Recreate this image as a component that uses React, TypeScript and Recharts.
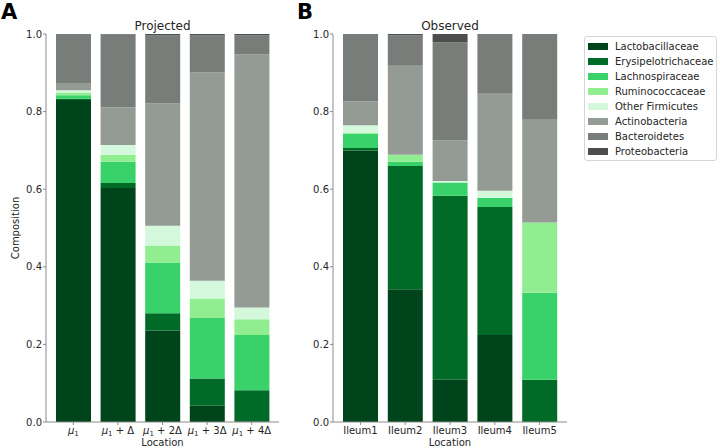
import React from 'react';
import { BarChart, Bar, XAxis, YAxis } from 'recharts';

// Taxa, bottom of the stack first
const taxa = [
    'Lactobacillaceae',
    'Erysipelotrichaceae',
    'Lachnospiraceae',
    'Ruminococcaceae',
    'Other Firmicutes',
    'Actinobacteria',
    'Bacteroidetes',
    'Proteobacteria',
];
const taxaColors = ['#00441b', '#006a27', '#39d26a', '#90ee90', '#d4f8dc', '#939b94', '#787d79', '#4c4e4c'];

const projectedLocations = ['μ1', 'μ1 + Δ', 'μ1 + 2Δ', 'μ1 + 3Δ', 'μ1 + 4Δ'];
const observedLocations = ['Ileum1', 'Ileum2', 'Ileum3', 'Ileum4', 'Ileum5'];
const yTicks = [0, 0.2, 0.4, 0.6, 0.8, 1.0];

// one row per taxon, one value per location
const projectedValues = [
    [0.830, 0.603, 0.236, 0.042, 0.002],
    [0.003, 0.013, 0.044, 0.070, 0.080],
    [0.009, 0.055, 0.131, 0.156, 0.142],
    [0.007, 0.018, 0.044, 0.050, 0.041],
    [0.006, 0.025, 0.051, 0.046, 0.030],
    [0.019, 0.097, 0.315, 0.537, 0.652],
    [0.126, 0.188, 0.175, 0.095, 0.050],
    [0.000, 0.001, 0.004, 0.004, 0.003],
];
const observedValues = [
    [0.700, 0.342, 0.109, 0.224, 0.000],
    [0.006, 0.318, 0.474, 0.330, 0.109],
    [0.037, 0.011, 0.034, 0.024, 0.224],
    [0.002, 0.017, 0.000, 0.000, 0.181],
    [0.020, 0.001, 0.004, 0.018, 0.000],
    [0.061, 0.229, 0.105, 0.250, 0.265],
    [0.174, 0.079, 0.253, 0.154, 0.221],
    [0.000, 0.003, 0.021, 0.000, 0.000],
];

const FONT = '"DejaVu Sans", sans-serif';
const SPINE = '#8c8c8c';
const TEXT = '#262626';

const buildRows = (locations: string[], values: number[][]) =>
    locations.map((loc, j) => {
        const row: Record<string, string | number> = { loc };
        taxa.forEach((t, i) => {
            row[t] = values[i][j];
        });
        return row;
    });

// matplotlib style mathtext: italic mu with subscript 1
// eslint-disable-next-line @typescript-eslint/no-explicit-any
const MuTick = ({ x, y, payload }: any) => {
    const rest = String(payload.value).slice(2);
    return (
        <text x={x} y={y + 7} textAnchor="middle" fontSize={10} fontFamily={FONT} fill={TEXT}>
            <tspan fontStyle="italic">μ</tspan>
            <tspan fontSize={7} dy={2}>1</tspan>
            <tspan dy={-2}>{rest ? ' ' + rest : ''}</tspan>
        </text>
    );
};

// eslint-disable-next-line @typescript-eslint/no-explicit-any
const PlainTick = ({ x, y, payload }: any) => (
    <text x={x} y={y + 7} textAnchor="middle" fontSize={10} fontFamily={FONT} fill={TEXT}>
        {payload.value}
    </text>
);

interface PanelProps {
    locations: string[];
    values: number[][];
    marginLeft: number;
    marginRight: number;
    showYLabel: boolean;
    // eslint-disable-next-line @typescript-eslint/no-explicit-any
    tick: any;
}

const Panel: React.FC<PanelProps> = ({ locations, values, marginLeft, marginRight, showYLabel, tick }) => {
    const data = buildRows(locations, values);
    return (
        <BarChart
            width={290}
            height={448}
            data={data}
            margin={{ top: 34, right: marginRight, bottom: 0, left: marginLeft }}
        >
            <XAxis
                dataKey="loc"
                height={26}
                padding={{ left: 5, right: 5 }}
                tick={tick}
                tickSize={3}
                tickMargin={2}
                axisLine={{ stroke: SPINE }}
                tickLine={{ stroke: SPINE }}
                interval={0}
            />
            <XAxis xAxisId="top" dataKey="loc" orientation="top" height={0} tick={false} tickLine={false} axisLine={{ stroke: SPINE }} />
            <YAxis
                type="number"
                domain={[0, 1]}
                ticks={yTicks}
                width={40}
                tickSize={3}
                tickMargin={1}
                tickFormatter={(v: number) => v.toFixed(1)}
                tick={{ fontSize: 10, fontFamily: FONT, fill: TEXT }}
                axisLine={{ stroke: SPINE }}
                tickLine={{ stroke: SPINE }}
                label={
                    showYLabel
                        ? {
                              // eslint-disable-next-line @typescript-eslint/no-explicit-any
                              content: ({ viewBox }: any) => {
                                  const cx = viewBox.x + 13;
                                  const cy = viewBox.y + viewBox.height / 2;
                                  return (
                                      <text
                                          x={cx}
                                          y={cy}
                                          transform={`rotate(-90 ${cx} ${cy})`}
                                          textAnchor="middle"
                                          fontSize={10}
                                          fontFamily={FONT}
                                          fill={TEXT}
                                      >
                                          Composition
                                      </text>
                                  );
                              },
                          }
                        : undefined
                }
            />
            <YAxis yAxisId="right" orientation="right" type="number" domain={[0, 1]} width={0} tick={false} tickLine={false} axisLine={{ stroke: SPINE }} />
            {taxa.map((t, i) => (
                <Bar key={t} dataKey={t} stackId="s" fill={taxaColors[i]} barSize={35} isAnimationActive={false} />
            ))}
        </BarChart>
    );
};

export default function App() {
    return (
        <div style={{ position: 'absolute', left: 0, top: 0, width: 720, height: 448, overflow: 'hidden', fontFamily: FONT, background: '#fff' }}>
            <div style={{ position: 'absolute', left: 0, top: 0 }}>
                <Panel
                    locations={projectedLocations}
                    values={projectedValues}
                    marginLeft={6}
                    marginRight={11}
                    showYLabel
                    tick={<MuTick />}
                />
            </div>
            <div style={{ position: 'absolute', left: 290, top: 0 }}>
                <Panel
                    locations={observedLocations}
                    values={observedValues}
                    marginLeft={3}
                    marginRight={13}
                    showYLabel={false}
                    tick={<PlainTick />}
                />
            </div>

            {/* panel letters, titles and x labels */}
            <svg width={720} height={448} style={{ position: 'absolute', left: 0, top: 0, pointerEvents: 'none' }}>
                <text x={1} y={19} fontSize={21} fontWeight="bold" fontFamily={FONT} fill="#000">A</text>
                <text x={297} y={19} fontSize={21} fontWeight="bold" fontFamily={FONT} fill="#000">B</text>
                <text x={162.5} y={29.5} textAnchor="middle" fontSize={12} fontFamily={FONT} fill={TEXT}>Projected</text>
                <text x={450} y={29.5} textAnchor="middle" fontSize={12} fontFamily={FONT} fill={TEXT}>Observed</text>
                <text x={162.5} y={446} textAnchor="middle" fontSize={10} fontFamily={FONT} fill={TEXT}>Location</text>
                <text x={450} y={446} textAnchor="middle" fontSize={10} fontFamily={FONT} fill={TEXT}>Location</text>
            </svg>

            {/* legend */}
            <div
                style={{
                    position: 'absolute',
                    left: 584,
                    top: 36,
                    width: 133,
                    height: 125,
                    boxSizing: 'border-box',
                    border: '1px solid #d6d6d6',
                    borderRadius: 3,
                    paddingTop: 2,
                }}
            >
                {taxa.map((t, i) => (
                    <div key={t} style={{ display: 'flex', alignItems: 'center', height: 15 }}>
                        <div style={{ width: 20, height: 7, marginLeft: 3, background: taxaColors[i] }} />
                        <span style={{ marginLeft: 7, fontSize: 10, color: TEXT, whiteSpace: 'nowrap' }}>{t}</span>
                    </div>
                ))}
            </div>
        </div>
    );
}
